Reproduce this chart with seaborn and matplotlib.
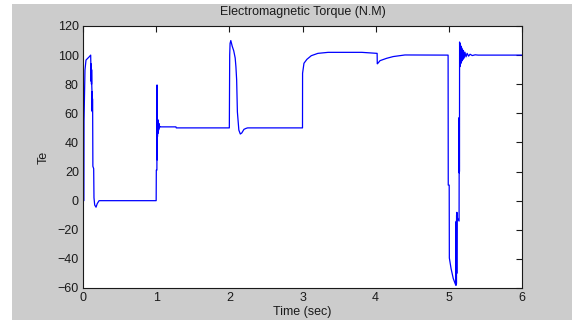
import matplotlib
matplotlib.use("Agg")
import matplotlib.pyplot as plt
import matplotlib.patches as mpatches
import seaborn as sns
import pandas as pd

# torque trace, piece by piece (time in s, Te in N.M)
t_start = [0.0, 0.012, 0.014, 0.027, 0.041, 0.086, 0.105, 0.108, 0.110, 0.112,
           0.114, 0.116, 0.118, 0.120, 0.122, 0.124, 0.126, 0.128, 0.130, 0.132,
           0.135, 0.146, 0.150, 0.160, 0.178, 0.195, 0.220]
te_start = [0.0, 0.0, 55, 89.8, 96.6, 98.9, 100, 91, 94, 82,
            92, 80, 90, 79, 76, 62, 75, 61, 70, 62,
            23.6, 22, 2, -3, -4.5, -2, 0.0]

t_step1 = [1.0, 1.002, 1.010, 1.012, 1.014, 1.016, 1.018, 1.020, 1.022, 1.024,
           1.027, 1.030, 1.034, 1.038, 1.043, 1.050, 1.060, 1.270, 1.275, 2.0]
te_step1 = [0.0, 21, 21, 79.5, 28, 57, 44, 56, 46, 55,
            47, 54, 48.5, 53, 50, 51, 50.7, 50.7, 50, 50]

t_step2 = [2.005, 2.010, 2.020, 2.030, 2.040, 2.060, 2.080, 2.090, 2.100, 2.110,
           2.130, 2.150, 2.170, 2.200, 2.230, 2.250, 3.0]
te_step2 = [100, 108, 110, 108, 106, 103, 98, 92, 83, 61,
            48.5, 45.8, 46.5, 49, 49.7, 50, 50]

t_step3 = [3.001, 3.020, 3.060, 3.120, 3.210, 3.350, 3.810, 4.020, 4.022, 4.030,
           4.060, 4.150, 4.240, 4.400, 4.990]
te_step3 = [87.5, 94.4, 97.1, 99.6, 101.2, 101.9, 101.9, 101.2, 94, 94.4,
            96.2, 97.8, 99.0, 100.1, 100]

t_fault = [4.992, 5.005, 5.007, 5.030, 5.060, 5.085, 5.095, 5.098, 5.100, 5.102,
           5.104, 5.106, 5.108, 5.110, 5.118, 5.140, 5.141, 5.142, 5.143, 5.144,
           5.145, 5.146, 5.147, 5.150, 5.153, 5.156, 5.159, 5.162, 5.166, 5.170,
           5.175, 5.180, 5.186, 5.192, 5.200, 5.210, 5.220, 5.235, 5.250, 5.270,
           5.290, 5.320, 5.360, 5.400, 6.0]
te_fault = [10.7, 10.7, -39.4, -46.5, -53.4, -56.8, -58, -15, -58, -14,
            -57, -10, -50, -8, -12, -14, 19, 57, 19, 57,
            20, 56, 109, 92, 108, 93, 107, 94, 106, 95,
            105, 96, 104, 97, 103, 98, 102, 98.8, 101.2, 99.3,
            100.6, 99.7, 100.2, 100, 100]

time = t_start + t_step1 + t_step2 + t_step3 + t_fault
torque = te_start + te_step1 + te_step2 + te_step3 + te_fault
df = pd.DataFrame({"time": time, "Te": torque})

x_ticks = [0, 1, 2, 3, 4, 5, 6]
y_ticks = [-60, -40, -20, 0, 20, 40, 60, 80, 100, 120]

sns.set_style("white")
plt.rcParams["font.family"] = ["Liberation Sans", "DejaVu Sans"]

fig = plt.figure(figsize=(5.72, 3.25), dpi=100, facecolor="white")
# matlab-ish grey panel behind the axes
fig.patches.append(mpatches.Rectangle((12 / 572, 5 / 325), 560 / 572, 316 / 325,
                                      transform=fig.transFigure, facecolor="#cccccc",
                                      edgecolor="none", zorder=-1))
ax = fig.add_axes([83 / 572, 37 / 325, 439 / 572, 262 / 325])
ax.set_facecolor("white")

sns.lineplot(data=df, x="time", y="Te", ax=ax, sort=False, estimator=None,
             color="#0000ff", linewidth=0.9)

ax.set_xlim(0, 6)
ax.set_ylim(-60, 120)
ax.set_xticks(x_ticks)
ax.set_yticks(y_ticks)
ax.tick_params(direction="in", length=4, width=0.8, top=True, right=True,
               labelsize=9, colors="#1a1a1a", pad=3)
for s in ax.spines.values():
    s.set_visible(True)
    s.set_color("#1a1a1a")
    s.set_linewidth(0.8)

ax.set_title("Electromagnetic Torque (N.M)", fontsize=9, color="#1a1a1a", pad=8)
ax.set_xlabel("Time (sec)", fontsize=9, color="#1a1a1a", labelpad=1)
ax.set_ylabel("Te", fontsize=9, color="#1a1a1a", labelpad=6)

fig.savefig("out.png", dpi=100, facecolor=fig.get_facecolor())
